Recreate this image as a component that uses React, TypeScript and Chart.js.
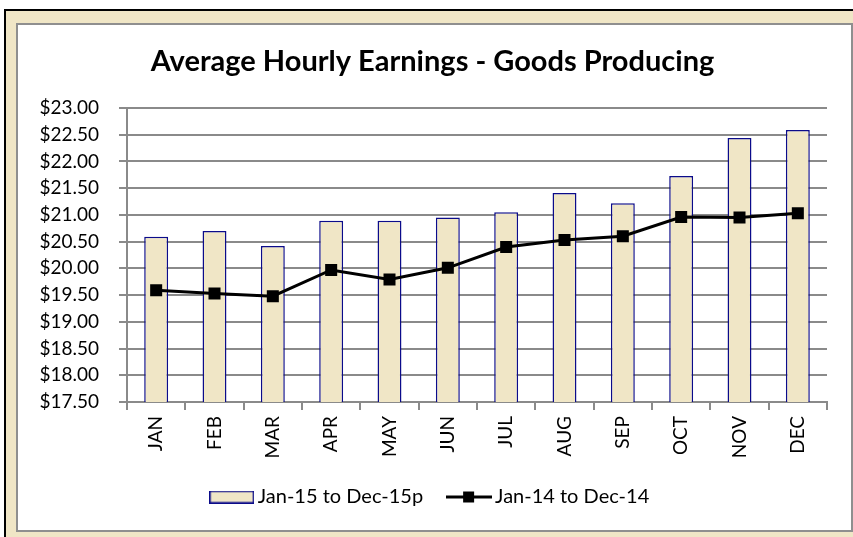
import React, { useEffect, useRef } from "react";
import { Chart, registerables } from "chart.js";

Chart.register(...registerables);

const months = ["JAN", "FEB", "MAR", "APR", "MAY", "JUN", "JUL", "AUG", "SEP", "OCT", "NOV", "DEC"];
const earnings2015 = [20.59, 20.70, 20.42, 20.89, 20.89, 20.95, 21.05, 21.41, 21.22, 21.73, 22.44, 22.59];
const earnings2014 = [19.59, 19.53, 19.48, 19.97, 19.79, 20.01, 20.40, 20.53, 20.60, 20.96, 20.95, 21.03];
const seriesNames = ["Jan-15 to Dec-15p", "Jan-14 to Dec-14"];
const chartTitle = "Average Hourly Earnings - Goods Producing";

const BEIGE = "#F0E6C6";
const NAVY = "#0B0B8A";
const GRID = "#8A8A8A";
const FONT = "Lato";

function makeBoxIcon(): HTMLCanvasElement {
  const c = document.createElement("canvas");
  c.width = 45;
  c.height = 13;
  const g = c.getContext("2d")!;
  g.fillStyle = BEIGE;
  g.fillRect(0, 0, 45, 13);
  g.strokeStyle = NAVY;
  g.lineWidth = 1.5;
  g.strokeRect(0.75, 0.75, 43.5, 11.5);
  return c;
}

function makeLineIcon(): HTMLCanvasElement {
  const c = document.createElement("canvas");
  c.width = 46;
  c.height = 13;
  const g = c.getContext("2d")!;
  g.strokeStyle = "#000";
  g.lineWidth = 3;
  g.beginPath();
  g.moveTo(0, 6.5);
  g.lineTo(46, 6.5);
  g.stroke();
  g.fillStyle = "#000";
  g.fillRect(17, 1, 11, 11);
  return c;
}

export default function App() {
  const ref = useRef<HTMLCanvasElement>(null);

  useEffect(() => {
    if (!ref.current) return;
    const boxIcon = makeBoxIcon();
    const lineIcon = makeLineIcon();
    const chart = new Chart(ref.current, {
      type: "bar",
      data: {
        labels: months,
        datasets: [
          {
            type: "line",
            label: seriesNames[1],
            data: earnings2014,
            borderColor: "#000",
            backgroundColor: "#000",
            borderWidth: 3,
            pointStyle: "rect",
            pointRadius: 8.5,
            pointBorderWidth: 0,
            pointBackgroundColor: "#000",
            tension: 0,
            order: 1,
          } as any,
          {
            type: "bar",
            label: seriesNames[0],
            data: earnings2015,
            backgroundColor: BEIGE,
            borderColor: NAVY,
            borderWidth: 1.5,
            barPercentage: 0.41,
            categoryPercentage: 1,
            order: 2,
          },
        ],
      },
      options: {
        animation: false,
        responsive: false,
        maintainAspectRatio: false,
        layout: { padding: { left: 20, right: 24, top: 0, bottom: 13 } },
        plugins: {
          title: {
            display: true,
            text: chartTitle,
            color: "#000",
            font: { family: FONT, size: 29, weight: "bold" },
            padding: { top: 19.6, bottom: 28.6 },
          },
          legend: {
            position: "bottom",
            labels: {
              color: "#000",
              font: { family: FONT, size: 20 },
              usePointStyle: true,
              pointStyleWidth: 32,
              padding: 30,
              generateLabels: () => [
                {
                  text: seriesNames[0],
                  pointStyle: boxIcon as any,
                  fillStyle: BEIGE,
                  strokeStyle: NAVY,
                  lineWidth: 0,
                  hidden: false,
                  datasetIndex: 1,
                  fontColor: "#000",
                },
                {
                  text: seriesNames[1],
                  pointStyle: lineIcon as any,
                  fillStyle: "#000",
                  strokeStyle: "#000",
                  lineWidth: 0,
                  hidden: false,
                  datasetIndex: 0,
                  fontColor: "#000",
                },
              ],
            },
          },
          tooltip: { enabled: false },
        },
        scales: {
          x: {
            offset: true,
            afterFit: (s: any) => {
              s.height = 55;
            },
            grid: {
              display: true,
              drawOnChartArea: false,
              drawTicks: true,
              tickLength: 8,
              offset: true,
              color: GRID,
              lineWidth: 2,
            },
            border: { display: true, color: GRID, width: 2 },
            ticks: {
              color: "#000",
              font: { family: FONT, size: 19 },
              minRotation: 90,
              maxRotation: 90,
              padding: 6,
              autoSkip: false,
            },
          },
          y: {
            min: 17.5,
            max: 23,
            afterFit: (s: any) => {
              s.width = 89;
            },
            grid: {
              color: GRID,
              lineWidth: 2,
              tickLength: 8,
              drawTicks: true,
            },
            border: { display: true, color: GRID, width: 2 },
            ticks: {
              stepSize: 0.5,
              color: "#000",
              font: { family: FONT, size: 19 },
              padding: 20,
              callback: (v: any) => "$" + Number(v).toFixed(2),
            },
          },
        },
      },
    });
    return () => chart.destroy();
  }, []);

  return (
    <div style={{ position: "fixed", left: 0, top: 0, width: 853, height: 537, background: "#fff", overflow: "hidden" }}>
      <div
        style={{
          position: "absolute",
          left: 4,
          top: 9,
          width: 900,
          height: 600,
          borderLeft: "2px solid #000",
          borderTop: "2px solid #000",
          background: BEIGE,
        }}
      />
      <div
        style={{
          position: "absolute",
          left: 16,
          top: 23,
          width: 833,
          height: 505,
          border: "2px solid #8F8F8F",
          background: "#fff",
        }}
      >
        <canvas ref={ref} width={833} height={505} style={{ display: "block", width: 833, height: 505 }} />
      </div>
    </div>
  );
}
